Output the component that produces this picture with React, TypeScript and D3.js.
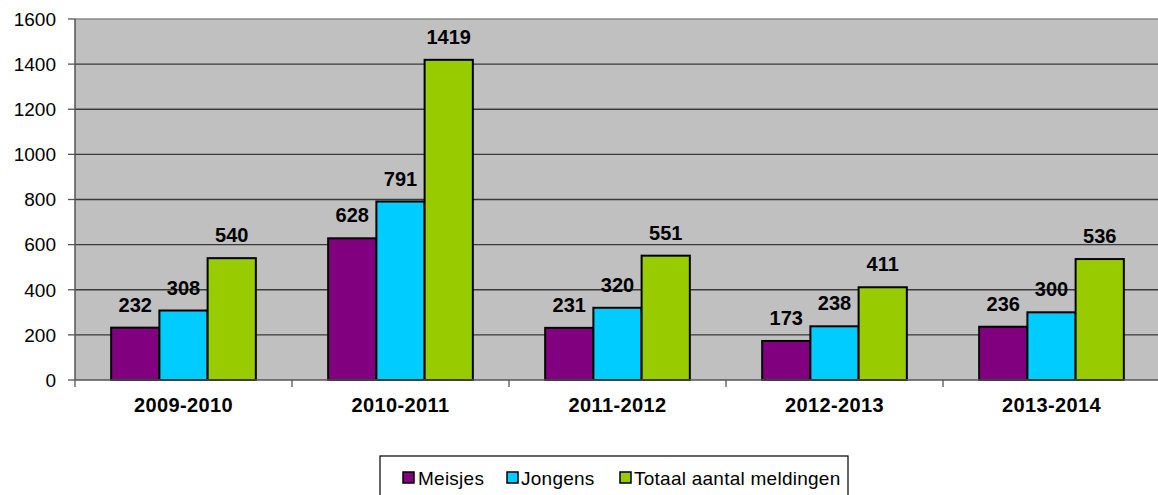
import React, { useEffect } from "react";
import * as d3 from "d3";

const categories = ["2009-2010", "2010-2011", "2011-2012", "2012-2013", "2013-2014"];
const seriesNames = ["Meisjes", "Jongens", "Totaal aantal meldingen"];
const meisjes = [232, 628, 231, 173, 236];
const jongens = [308, 791, 320, 238, 300];
const totaal = [540, 1419, 551, 411, 536];
const yTicks = [0, 200, 400, 600, 800, 1000, 1200, 1400, 1600];
const colors = ["#800080", "#00CCFF", "#99CC00"];

const W = 1158;
const H = 495;
const plotLeft = 75;
const plotRight = 1160;
const plotTop = 19;
const plotBottom = 380;
const FONT = "Arial, 'Liberation Sans', sans-serif";

export default function App() {
  useEffect(() => {
    document.body.style.margin = "0";
  }, []);

  const values = [meisjes, jongens, totaal];
  const x0 = d3.scaleBand<string>().domain(categories).range([plotLeft, plotRight]).padding(0);
  const x1 = d3
    .scaleBand<string>()
    .domain(seriesNames)
    .range([0, x0.bandwidth()])
    .paddingInner(0)
    .paddingOuter(0.75);
  const y = d3.scaleLinear().domain([0, 1600]).range([plotBottom, plotTop]);

  const legendItems = [
    { name: seriesNames[0], marker: 403, text: 418 },
    { name: seriesNames[1], marker: 507, text: 521 },
    { name: seriesNames[2], marker: 620, text: 634 },
  ];

  return (
    <svg width={W} height={H} style={{ display: "block", position: "absolute", left: 0, top: 0 }}>
      <rect x={0} y={0} width={W} height={H} fill="#ffffff" />
      {/* plot area */}
      <rect x={plotLeft} y={plotTop} width={plotRight - plotLeft} height={plotBottom - plotTop} fill="#C0C0C0" />
      <line x1={plotLeft} x2={plotRight} y1={plotTop} y2={plotTop} stroke="#8a8a8a" strokeWidth={1.5} />
      {/* gridlines */}
      {yTicks.filter((t) => t > 0 && t < 1600).map((t) => (
        <line key={t} x1={plotLeft} x2={plotRight} y1={y(t)} y2={y(t)} stroke="#3a3a3a" strokeWidth={1.3} />
      ))}
      {/* y axis */}
      <line x1={plotLeft} x2={plotLeft} y1={plotTop} y2={plotBottom} stroke="#555" strokeWidth={1.5} />
      {yTicks.map((t) => (
        <g key={t}>
          <line x1={plotLeft - 7} x2={plotLeft} y1={y(t)} y2={y(t)} stroke="#555" strokeWidth={1.3} />
          <text
            x={56}
            y={y(t)}
            dy="0.36em"
            textAnchor="end"
            fontFamily={FONT}
            fontSize={19}
            fill="#000"
          >
            {t}
          </text>
        </g>
      ))}
      {/* bars */}
      {categories.map((c, ci) => (
        <g key={c} transform={`translate(${x0(c)},0)`}>
          {seriesNames.map((s, si) => {
            const v = values[si][ci];
            const bx = x1(s) as number;
            return (
              <rect
                key={s}
                x={bx}
                y={y(v)}
                width={x1.bandwidth()}
                height={plotBottom - y(v)}
                fill={colors[si]}
                stroke="#000"
                strokeWidth={2}
              />
            );
          })}
        </g>
      ))}
      {/* x axis */}
      <line x1={plotLeft} x2={plotRight} y1={plotBottom} y2={plotBottom} stroke="#555" strokeWidth={1.5} />
      {categories.map((c) => (
        <line
          key={c}
          x1={x0(c) as number}
          x2={x0(c) as number}
          y1={plotBottom}
          y2={plotBottom + 7}
          stroke="#555"
          strokeWidth={1.3}
        />
      ))}
      {categories.map((c) => (
        <text
          key={c}
          x={(x0(c) as number) + x0.bandwidth() / 2}
          y={412}
          textAnchor="middle"
          fontFamily={FONT}
          fontWeight="bold"
          fontSize={20}
          letterSpacing={0.4}
          fill="#000"
        >
          {c}
        </text>
      ))}
      {/* value labels */}
      {categories.map((c, ci) => (
        <g key={c} transform={`translate(${x0(c)},0)`}>
          {seriesNames.map((s, si) => {
            const v = values[si][ci];
            return (
              <text
                key={s}
                x={(x1(s) as number) + x1.bandwidth() / 2}
                y={y(v) - 16}
                textAnchor="middle"
                fontFamily={FONT}
                fontWeight="bold"
                fontSize={20}
                fill="#000"
              >
                {v}
              </text>
            );
          })}
        </g>
      ))}
      {/* legend */}
      <rect x={380} y={456} width={468} height={45} fill="#fff" stroke="#000" strokeWidth={1.2} />
      {legendItems.map((it, i) => (
        <g key={it.name}>
          <rect x={it.marker} y={472} width={11} height={11} fill={colors[i]} stroke="#000" strokeWidth={1.5} />
          <text x={it.text} y={485} fontFamily={FONT} fontSize={19} letterSpacing={0.25} fill="#000">
            {it.name}
          </text>
        </g>
      ))}
    </svg>
  );
}
